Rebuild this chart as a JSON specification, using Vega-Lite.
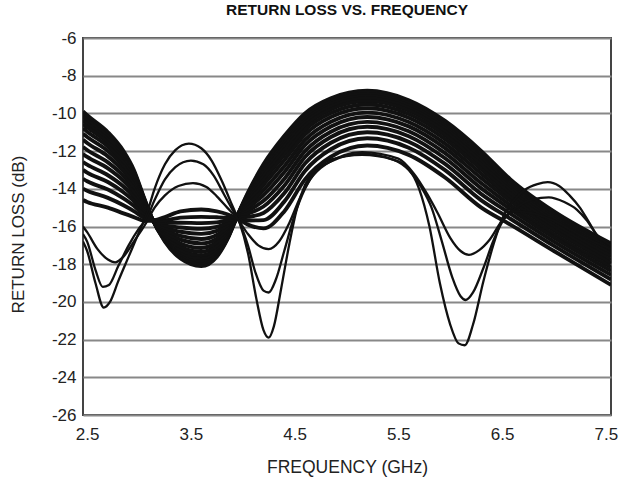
{
"$schema":"https://vega.github.io/schema/vega-lite/v6.json",
"width":528,"height":377,
"autosize":{"type":"none"},
"padding":{"left":83,"top":38,"right":18,"bottom":62},
"background":"white",
"config":{"view":{"stroke":"#444","strokeWidth":2},"font":"Liberation Sans"},
"title":{"text":"RETURN LOSS VS. FREQUENCY","fontSize":15.5,"fontWeight":"bold","color":"#111","offset":11,"anchor":"middle"},
"datasets":{"band":[
{"c":"b0","f":2.46,"v":-9.9},{"c":"b0","f":2.5,"v":-10.1},{"c":"b0","f":2.7,"v":-11.0},{"c":"b0","f":2.85,"v":-12.0},{"c":"b0","f":2.95,"v":-13.0},{"c":"b0","f":3.05,"v":-14.5},{"c":"b0","f":3.12,"v":-15.5},{"c":"b0","f":3.25,"v":-16.8},{"c":"b0","f":3.4,"v":-17.7},{"c":"b0","f":3.6,"v":-18.1},{"c":"b0","f":3.75,"v":-17.6},{"c":"b0","f":3.85,"v":-16.7},{"c":"b0","f":3.95,"v":-15.4},{"c":"b0","f":4.05,"v":-14.2},{"c":"b0","f":4.2,"v":-12.7},{"c":"b0","f":4.4,"v":-11.2},{"c":"b0","f":4.6,"v":-10.0},{"c":"b0","f":4.85,"v":-9.2},{"c":"b0","f":5.2,"v":-8.8},{"c":"b0","f":5.6,"v":-9.3},{"c":"b0","f":5.95,"v":-10.4},{"c":"b0","f":6.3,"v":-12.0},{"c":"b0","f":6.58,"v":-13.5},{"c":"b0","f":7.0,"v":-15.2},{"c":"b0","f":7.55,"v":-16.9},
{"c":"b1","f":2.46,"v":-10.04},{"c":"b1","f":2.5,"v":-10.24},{"c":"b1","f":2.7,"v":-11.12},{"c":"b1","f":2.85,"v":-12.1},{"c":"b1","f":2.95,"v":-13.08},{"c":"b1","f":3.05,"v":-14.54},{"c":"b1","f":3.12,"v":-15.51},{"c":"b1","f":3.25,"v":-16.76},{"c":"b1","f":3.4,"v":-17.63},{"c":"b1","f":3.6,"v":-18.01},{"c":"b1","f":3.75,"v":-17.53},{"c":"b1","f":3.85,"v":-16.66},{"c":"b1","f":3.95,"v":-15.41},{"c":"b1","f":4.05,"v":-14.25},{"c":"b1","f":4.2,"v":-12.8},{"c":"b1","f":4.4,"v":-11.32},{"c":"b1","f":4.6,"v":-10.11},{"c":"b1","f":4.85,"v":-9.29},{"c":"b1","f":5.2,"v":-8.89},{"c":"b1","f":5.6,"v":-9.39},{"c":"b1","f":5.95,"v":-10.49},{"c":"b1","f":6.3,"v":-12.09},{"c":"b1","f":6.58,"v":-13.57},{"c":"b1","f":7.0,"v":-15.26},{"c":"b1","f":7.55,"v":-16.97},
{"c":"b2","f":2.46,"v":-10.18},{"c":"b2","f":2.5,"v":-10.38},{"c":"b2","f":2.7,"v":-11.24},{"c":"b2","f":2.85,"v":-12.2},{"c":"b2","f":2.95,"v":-13.15},{"c":"b2","f":3.05,"v":-14.57},{"c":"b2","f":3.12,"v":-15.51},{"c":"b2","f":3.25,"v":-16.72},{"c":"b2","f":3.4,"v":-17.55},{"c":"b2","f":3.6,"v":-17.92},{"c":"b2","f":3.75,"v":-17.46},{"c":"b2","f":3.85,"v":-16.62},{"c":"b2","f":3.95,"v":-15.41},{"c":"b2","f":4.05,"v":-14.3},{"c":"b2","f":4.2,"v":-12.9},{"c":"b2","f":4.4,"v":-11.44},{"c":"b2","f":4.6,"v":-10.21},{"c":"b2","f":4.85,"v":-9.39},{"c":"b2","f":5.2,"v":-8.97},{"c":"b2","f":5.6,"v":-9.47},{"c":"b2","f":5.95,"v":-10.58},{"c":"b2","f":6.3,"v":-12.18},{"c":"b2","f":6.58,"v":-13.64},{"c":"b2","f":7.0,"v":-15.33},{"c":"b2","f":7.55,"v":-17.03},
{"c":"b3","f":2.46,"v":-10.37},{"c":"b3","f":2.5,"v":-10.56},{"c":"b3","f":2.7,"v":-11.4},{"c":"b3","f":2.85,"v":-12.33},{"c":"b3","f":2.95,"v":-13.25},{"c":"b3","f":3.05,"v":-14.62},{"c":"b3","f":3.12,"v":-15.52},{"c":"b3","f":3.25,"v":-16.67},{"c":"b3","f":3.4,"v":-17.45},{"c":"b3","f":3.6,"v":-17.8},{"c":"b3","f":3.75,"v":-17.36},{"c":"b3","f":3.85,"v":-16.57},{"c":"b3","f":3.95,"v":-15.42},{"c":"b3","f":4.05,"v":-14.37},{"c":"b3","f":4.2,"v":-13.04},{"c":"b3","f":4.4,"v":-11.6},{"c":"b3","f":4.6,"v":-10.35},{"c":"b3","f":4.85,"v":-9.51},{"c":"b3","f":5.2,"v":-9.09},{"c":"b3","f":5.6,"v":-9.59},{"c":"b3","f":5.95,"v":-10.7},{"c":"b3","f":6.3,"v":-12.3},{"c":"b3","f":6.58,"v":-13.74},{"c":"b3","f":7.0,"v":-15.41},{"c":"b3","f":7.55,"v":-17.12},
{"c":"b4","f":2.46,"v":-10.56},{"c":"b4","f":2.5,"v":-10.74},{"c":"b4","f":2.7,"v":-11.56},{"c":"b4","f":2.85,"v":-12.46},{"c":"b4","f":2.95,"v":-13.35},{"c":"b4","f":3.05,"v":-14.67},{"c":"b4","f":3.12,"v":-15.53},{"c":"b4","f":3.25,"v":-16.62},{"c":"b4","f":3.4,"v":-17.35},{"c":"b4","f":3.6,"v":-17.68},{"c":"b4","f":3.75,"v":-17.26},{"c":"b4","f":3.85,"v":-16.51},{"c":"b4","f":3.95,"v":-15.43},{"c":"b4","f":4.05,"v":-14.44},{"c":"b4","f":4.2,"v":-13.18},{"c":"b4","f":4.4,"v":-11.76},{"c":"b4","f":4.6,"v":-10.49},{"c":"b4","f":4.85,"v":-9.63},{"c":"b4","f":5.2,"v":-9.21},{"c":"b4","f":5.6,"v":-9.71},{"c":"b4","f":5.95,"v":-10.82},{"c":"b4","f":6.3,"v":-12.42},{"c":"b4","f":6.58,"v":-13.84},{"c":"b4","f":7.0,"v":-15.49},{"c":"b4","f":7.55,"v":-17.21},
{"c":"b5","f":2.46,"v":-10.79},{"c":"b5","f":2.5,"v":-10.97},{"c":"b5","f":2.7,"v":-11.76},{"c":"b5","f":2.85,"v":-12.63},{"c":"b5","f":2.95,"v":-13.48},{"c":"b5","f":3.05,"v":-14.73},{"c":"b5","f":3.12,"v":-15.54},{"c":"b5","f":3.25,"v":-16.55},{"c":"b5","f":3.4,"v":-17.23},{"c":"b5","f":3.6,"v":-17.53},{"c":"b5","f":3.75,"v":-17.14},{"c":"b5","f":3.85,"v":-16.44},{"c":"b5","f":3.95,"v":-15.44},{"c":"b5","f":4.05,"v":-14.52},{"c":"b5","f":4.2,"v":-13.35},{"c":"b5","f":4.4,"v":-11.96},{"c":"b5","f":4.6,"v":-10.67},{"c":"b5","f":4.85,"v":-9.79},{"c":"b5","f":5.2,"v":-9.35},{"c":"b5","f":5.6,"v":-9.85},{"c":"b5","f":5.95,"v":-10.97},{"c":"b5","f":6.3,"v":-12.57},{"c":"b5","f":6.58,"v":-13.96},{"c":"b5","f":7.0,"v":-15.6},{"c":"b5","f":7.55,"v":-17.32},
{"c":"b6","f":2.46,"v":-11.08},{"c":"b6","f":2.5,"v":-11.25},{"c":"b6","f":2.7,"v":-12.0},{"c":"b6","f":2.85,"v":-12.83},{"c":"b6","f":2.95,"v":-13.63},{"c":"b6","f":3.05,"v":-14.8},{"c":"b6","f":3.12,"v":-15.55},{"c":"b6","f":3.25,"v":-16.48},{"c":"b6","f":3.4,"v":-17.08},{"c":"b6","f":3.6,"v":-17.35},{"c":"b6","f":3.75,"v":-17.0},{"c":"b6","f":3.85,"v":-16.36},{"c":"b6","f":3.95,"v":-15.45},{"c":"b6","f":4.05,"v":-14.63},{"c":"b6","f":4.2,"v":-13.55},{"c":"b6","f":4.4,"v":-12.2},{"c":"b6","f":4.6,"v":-10.88},{"c":"b6","f":4.85,"v":-9.98},{"c":"b6","f":5.2,"v":-9.53},{"c":"b6","f":5.6,"v":-10.03},{"c":"b6","f":5.95,"v":-11.15},{"c":"b6","f":6.3,"v":-12.75},{"c":"b6","f":6.58,"v":-14.1},{"c":"b6","f":7.0,"v":-15.73},{"c":"b6","f":7.55,"v":-17.45},
{"c":"b7","f":2.46,"v":-11.4},{"c":"b7","f":2.5,"v":-11.57},{"c":"b7","f":2.7,"v":-12.28},{"c":"b7","f":2.85,"v":-13.06},{"c":"b7","f":2.95,"v":-13.8},{"c":"b7","f":3.05,"v":-14.88},{"c":"b7","f":3.12,"v":-15.56},{"c":"b7","f":3.25,"v":-16.38},{"c":"b7","f":3.4,"v":-16.9},{"c":"b7","f":3.6,"v":-17.14},{"c":"b7","f":3.75,"v":-16.83},{"c":"b7","f":3.85,"v":-16.27},{"c":"b7","f":3.95,"v":-15.46},{"c":"b7","f":4.05,"v":-14.74},{"c":"b7","f":4.2,"v":-13.79},{"c":"b7","f":4.4,"v":-12.48},{"c":"b7","f":4.6,"v":-11.12},{"c":"b7","f":4.85,"v":-10.19},{"c":"b7","f":5.2,"v":-9.73},{"c":"b7","f":5.6,"v":-10.23},{"c":"b7","f":5.95,"v":-11.36},{"c":"b7","f":6.3,"v":-12.96},{"c":"b7","f":6.58,"v":-14.27},{"c":"b7","f":7.0,"v":-15.87},{"c":"b7","f":7.55,"v":-17.6},
{"c":"b8","f":2.46,"v":-11.78},{"c":"b8","f":2.5,"v":-11.94},{"c":"b8","f":2.7,"v":-12.6},{"c":"b8","f":2.85,"v":-13.32},{"c":"b8","f":2.95,"v":-14.0},{"c":"b8","f":3.05,"v":-14.98},{"c":"b8","f":3.12,"v":-15.58},{"c":"b8","f":3.25,"v":-16.28},{"c":"b8","f":3.4,"v":-16.7},{"c":"b8","f":3.6,"v":-16.9},{"c":"b8","f":3.75,"v":-16.64},{"c":"b8","f":3.85,"v":-16.16},{"c":"b8","f":3.95,"v":-15.48},{"c":"b8","f":4.05,"v":-14.88},{"c":"b8","f":4.2,"v":-14.06},{"c":"b8","f":4.4,"v":-12.8},{"c":"b8","f":4.6,"v":-11.4},{"c":"b8","f":4.85,"v":-10.44},{"c":"b8","f":5.2,"v":-9.96},{"c":"b8","f":5.6,"v":-10.46},{"c":"b8","f":5.95,"v":-11.6},{"c":"b8","f":6.3,"v":-13.2},{"c":"b8","f":6.58,"v":-14.46},{"c":"b8","f":7.0,"v":-16.04},{"c":"b8","f":7.55,"v":-17.78},
{"c":"b9","f":2.46,"v":-12.16},{"c":"b9","f":2.5,"v":-12.31},{"c":"b9","f":2.7,"v":-12.92},{"c":"b9","f":2.85,"v":-13.58},{"c":"b9","f":2.95,"v":-14.2},{"c":"b9","f":3.05,"v":-15.08},{"c":"b9","f":3.12,"v":-15.6},{"c":"b9","f":3.25,"v":-16.18},{"c":"b9","f":3.4,"v":-16.5},{"c":"b9","f":3.6,"v":-16.66},{"c":"b9","f":3.75,"v":-16.45},{"c":"b9","f":3.85,"v":-16.05},{"c":"b9","f":3.95,"v":-15.5},{"c":"b9","f":4.05,"v":-15.02},{"c":"b9","f":4.2,"v":-14.33},{"c":"b9","f":4.4,"v":-13.12},{"c":"b9","f":4.6,"v":-11.68},{"c":"b9","f":4.85,"v":-10.69},{"c":"b9","f":5.2,"v":-10.19},{"c":"b9","f":5.6,"v":-10.69},{"c":"b9","f":5.95,"v":-11.84},{"c":"b9","f":6.3,"v":-13.44},{"c":"b9","f":6.58,"v":-14.65},{"c":"b9","f":7.0,"v":-16.21},{"c":"b9","f":7.55,"v":-17.96},
{"c":"b10","f":2.46,"v":-12.58},{"c":"b10","f":2.5,"v":-12.72},{"c":"b10","f":2.7,"v":-13.28},{"c":"b10","f":2.85,"v":-13.88},{"c":"b10","f":2.95,"v":-14.43},{"c":"b10","f":3.05,"v":-15.18},{"c":"b10","f":3.12,"v":-15.61},{"c":"b10","f":3.25,"v":-16.06},{"c":"b10","f":3.4,"v":-16.28},{"c":"b10","f":3.6,"v":-16.39},{"c":"b10","f":3.75,"v":-16.23},{"c":"b10","f":3.85,"v":-15.93},{"c":"b10","f":3.95,"v":-15.51},{"c":"b10","f":4.05,"v":-15.17},{"c":"b10","f":4.2,"v":-14.64},{"c":"b10","f":4.4,"v":-13.48},{"c":"b10","f":4.6,"v":-12.0},{"c":"b10","f":4.85,"v":-10.97},{"c":"b10","f":5.2,"v":-10.45},{"c":"b10","f":5.6,"v":-10.95},{"c":"b10","f":5.95,"v":-12.11},{"c":"b10","f":6.3,"v":-13.71},{"c":"b10","f":6.58,"v":-14.87},{"c":"b10","f":7.0,"v":-16.4},{"c":"b10","f":7.55,"v":-18.15},
{"c":"b11","f":2.46,"v":-13.0},{"c":"b11","f":2.5,"v":-13.14},{"c":"b11","f":2.7,"v":-13.64},{"c":"b11","f":2.85,"v":-14.18},{"c":"b11","f":2.95,"v":-14.65},{"c":"b11","f":3.05,"v":-15.29},{"c":"b11","f":3.12,"v":-15.63},{"c":"b11","f":3.25,"v":-15.94},{"c":"b11","f":3.4,"v":-16.05},{"c":"b11","f":3.6,"v":-16.12},{"c":"b11","f":3.75,"v":-16.02},{"c":"b11","f":3.85,"v":-15.81},{"c":"b11","f":3.95,"v":-15.53},{"c":"b11","f":4.05,"v":-15.32},{"c":"b11","f":4.2,"v":-14.94},{"c":"b11","f":4.4,"v":-13.84},{"c":"b11","f":4.6,"v":-12.31},{"c":"b11","f":4.85,"v":-11.25},{"c":"b11","f":5.2,"v":-10.71},{"c":"b11","f":5.6,"v":-11.21},{"c":"b11","f":5.95,"v":-12.38},{"c":"b11","f":6.3,"v":-13.98},{"c":"b11","f":6.58,"v":-15.08},{"c":"b11","f":7.0,"v":-16.59},{"c":"b11","f":7.55,"v":-18.35},
{"c":"b12","f":2.46,"v":-13.47},{"c":"b12","f":2.5,"v":-13.6},{"c":"b12","f":2.7,"v":-14.04},{"c":"b12","f":2.85,"v":-14.51},{"c":"b12","f":2.95,"v":-14.9},{"c":"b12","f":3.05,"v":-15.41},{"c":"b12","f":3.12,"v":-15.65},{"c":"b12","f":3.25,"v":-15.81},{"c":"b12","f":3.4,"v":-15.8},{"c":"b12","f":3.6,"v":-15.82},{"c":"b12","f":3.75,"v":-15.78},{"c":"b12","f":3.85,"v":-15.67},{"c":"b12","f":3.95,"v":-15.55},{"c":"b12","f":4.05,"v":-15.49},{"c":"b12","f":4.2,"v":-15.28},{"c":"b12","f":4.4,"v":-14.24},{"c":"b12","f":4.6,"v":-12.66},{"c":"b12","f":4.85,"v":-11.56},{"c":"b12","f":5.2,"v":-11.0},{"c":"b12","f":5.6,"v":-11.5},{"c":"b12","f":5.95,"v":-12.68},{"c":"b12","f":6.3,"v":-14.28},{"c":"b12","f":6.58,"v":-15.32},{"c":"b12","f":7.0,"v":-16.8},{"c":"b12","f":7.55,"v":-18.57},
{"c":"b13","f":2.46,"v":-13.99},{"c":"b13","f":2.5,"v":-14.1},{"c":"b13","f":2.7,"v":-14.48},{"c":"b13","f":2.85,"v":-14.87},{"c":"b13","f":2.95,"v":-15.18},{"c":"b13","f":3.05,"v":-15.54},{"c":"b13","f":3.12,"v":-15.67},{"c":"b13","f":3.25,"v":-15.67},{"c":"b13","f":3.4,"v":-15.53},{"c":"b13","f":3.6,"v":-15.49},{"c":"b13","f":3.75,"v":-15.51},{"c":"b13","f":3.85,"v":-15.53},{"c":"b13","f":3.95,"v":-15.57},{"c":"b13","f":4.05,"v":-15.68},{"c":"b13","f":4.2,"v":-15.66},{"c":"b13","f":4.4,"v":-14.68},{"c":"b13","f":4.6,"v":-13.05},{"c":"b13","f":4.85,"v":-11.9},{"c":"b13","f":5.2,"v":-11.32},{"c":"b13","f":5.6,"v":-11.82},{"c":"b13","f":5.95,"v":-13.01},{"c":"b13","f":6.3,"v":-14.61},{"c":"b13","f":6.58,"v":-15.59},{"c":"b13","f":7.0,"v":-17.03},{"c":"b13","f":7.55,"v":-18.81},
{"c":"b14","f":2.46,"v":-14.6},{"c":"b14","f":2.5,"v":-14.7},{"c":"b14","f":2.7,"v":-15.0},{"c":"b14","f":2.85,"v":-15.3},{"c":"b14","f":2.95,"v":-15.5},{"c":"b14","f":3.05,"v":-15.7},{"c":"b14","f":3.12,"v":-15.7},{"c":"b14","f":3.25,"v":-15.5},{"c":"b14","f":3.4,"v":-15.2},{"c":"b14","f":3.6,"v":-15.1},{"c":"b14","f":3.75,"v":-15.2},{"c":"b14","f":3.85,"v":-15.35},{"c":"b14","f":3.95,"v":-15.6},{"c":"b14","f":4.05,"v":-15.9},{"c":"b14","f":4.2,"v":-16.1},{"c":"b14","f":4.4,"v":-15.2},{"c":"b14","f":4.6,"v":-13.5},{"c":"b14","f":4.85,"v":-12.3},{"c":"b14","f":5.2,"v":-11.7},{"c":"b14","f":5.6,"v":-12.2},{"c":"b14","f":5.95,"v":-13.4},{"c":"b14","f":6.3,"v":-15.0},{"c":"b14","f":6.58,"v":-15.9},{"c":"b14","f":7.0,"v":-17.3},{"c":"b14","f":7.55,"v":-19.1},
{"c":"A","f":2.46,"v":-16.8},{"c":"A","f":2.5,"v":-17.3},{"c":"A","f":2.58,"v":-19.0},{"c":"A","f":2.66,"v":-20.3},{"c":"A","f":2.72,"v":-20.0},{"c":"A","f":2.8,"v":-18.9},{"c":"A","f":2.9,"v":-17.6},{"c":"A","f":3.0,"v":-16.3},{"c":"A","f":3.07,"v":-15.4},{"c":"A","f":3.15,"v":-14.0},{"c":"A","f":3.25,"v":-12.7},{"c":"A","f":3.35,"v":-11.95},{"c":"A","f":3.48,"v":-11.6},{"c":"A","f":3.6,"v":-11.85},{"c":"A","f":3.7,"v":-12.5},{"c":"A","f":3.8,"v":-13.6},{"c":"A","f":3.9,"v":-14.9},{"c":"A","f":3.97,"v":-15.8},{"c":"A","f":4.05,"v":-17.4},{"c":"A","f":4.13,"v":-19.8},{"c":"A","f":4.2,"v":-21.5},{"c":"A","f":4.25,"v":-21.9},{"c":"A","f":4.3,"v":-21.3},{"c":"A","f":4.37,"v":-19.3},{"c":"A","f":4.45,"v":-16.9},{"c":"A","f":4.52,"v":-15.1},{"c":"A","f":4.6,"v":-13.8},{"c":"A","f":4.7,"v":-13.0},{"c":"A","f":4.85,"v":-12.45},{"c":"A","f":5.15,"v":-12.2},{"c":"A","f":5.45,"v":-12.45},{"c":"A","f":5.6,"v":-12.95},{"c":"A","f":5.7,"v":-14.0},{"c":"A","f":5.8,"v":-16.0},{"c":"A","f":5.9,"v":-19.0},{"c":"A","f":6.0,"v":-21.2},{"c":"A","f":6.08,"v":-22.2},{"c":"A","f":6.14,"v":-22.3},{"c":"A","f":6.22,"v":-21.2},{"c":"A","f":6.32,"v":-18.9},{"c":"A","f":6.42,"v":-16.9},{"c":"A","f":6.5,"v":-15.6},{"c":"A","f":6.6,"v":-14.7},{"c":"A","f":6.72,"v":-14.05},{"c":"A","f":6.84,"v":-13.75},{"c":"A","f":6.94,"v":-13.65},{"c":"A","f":7.05,"v":-13.85},{"c":"A","f":7.15,"v":-14.35},{"c":"A","f":7.25,"v":-15.0},{"c":"A","f":7.33,"v":-15.7},{"c":"A","f":7.42,"v":-16.5},{"c":"A","f":7.55,"v":-17.0},
{"c":"B","f":2.46,"v":-16.4},{"c":"B","f":2.5,"v":-16.8},{"c":"B","f":2.58,"v":-18.3},{"c":"B","f":2.65,"v":-19.2},{"c":"B","f":2.71,"v":-19.1},{"c":"B","f":2.8,"v":-18.1},{"c":"B","f":2.9,"v":-17.0},{"c":"B","f":3.0,"v":-16.1},{"c":"B","f":3.07,"v":-15.6},{"c":"B","f":3.15,"v":-14.6},{"c":"B","f":3.25,"v":-13.5},{"c":"B","f":3.35,"v":-12.85},{"c":"B","f":3.5,"v":-12.5},{"c":"B","f":3.62,"v":-12.7},{"c":"B","f":3.72,"v":-13.3},{"c":"B","f":3.82,"v":-14.3},{"c":"B","f":3.9,"v":-15.1},{"c":"B","f":3.97,"v":-15.8},{"c":"B","f":4.05,"v":-17.0},{"c":"B","f":4.12,"v":-18.4},{"c":"B","f":4.2,"v":-19.4},{"c":"B","f":4.25,"v":-19.5},{"c":"B","f":4.32,"v":-18.8},{"c":"B","f":4.4,"v":-17.3},{"c":"B","f":4.5,"v":-15.4},{"c":"B","f":4.6,"v":-14.0},{"c":"B","f":4.7,"v":-13.1},{"c":"B","f":4.85,"v":-12.55},{"c":"B","f":5.15,"v":-12.15},{"c":"B","f":5.45,"v":-12.45},{"c":"B","f":5.6,"v":-13.0},{"c":"B","f":5.72,"v":-13.9},{"c":"B","f":5.82,"v":-15.0},{"c":"B","f":5.92,"v":-16.8},{"c":"B","f":6.02,"v":-18.7},{"c":"B","f":6.1,"v":-19.7},{"c":"B","f":6.15,"v":-19.9},{"c":"B","f":6.22,"v":-19.5},{"c":"B","f":6.32,"v":-18.2},{"c":"B","f":6.42,"v":-16.7},{"c":"B","f":6.52,"v":-15.6},{"c":"B","f":6.65,"v":-14.95},{"c":"B","f":6.8,"v":-14.55},{"c":"B","f":6.95,"v":-14.45},{"c":"B","f":7.1,"v":-14.7},{"c":"B","f":7.22,"v":-15.1},{"c":"B","f":7.32,"v":-15.7},{"c":"B","f":7.4,"v":-16.35},{"c":"B","f":7.55,"v":-17.0},
{"c":"C","f":2.46,"v":-16.0},{"c":"C","f":2.5,"v":-16.3},{"c":"C","f":2.6,"v":-17.2},{"c":"C","f":2.7,"v":-17.75},{"c":"C","f":2.77,"v":-17.9},{"c":"C","f":2.85,"v":-17.6},{"c":"C","f":2.95,"v":-16.8},{"c":"C","f":3.07,"v":-15.8},{"c":"C","f":3.15,"v":-15.0},{"c":"C","f":3.25,"v":-14.35},{"c":"C","f":3.38,"v":-13.85},{"c":"C","f":3.52,"v":-13.7},{"c":"C","f":3.65,"v":-13.9},{"c":"C","f":3.75,"v":-14.4},{"c":"C","f":3.85,"v":-15.0},{"c":"C","f":3.95,"v":-15.6},{"c":"C","f":4.05,"v":-16.4},{"c":"C","f":4.15,"v":-17.0},{"c":"C","f":4.25,"v":-17.2},{"c":"C","f":4.35,"v":-16.8},{"c":"C","f":4.45,"v":-15.8},{"c":"C","f":4.55,"v":-14.5},{"c":"C","f":4.65,"v":-13.5},{"c":"C","f":4.8,"v":-12.7},{"c":"C","f":5.15,"v":-12.05},{"c":"C","f":5.5,"v":-12.4},{"c":"C","f":5.65,"v":-13.2},{"c":"C","f":5.78,"v":-14.3},{"c":"C","f":5.88,"v":-15.3},{"c":"C","f":6.0,"v":-16.6},{"c":"C","f":6.1,"v":-17.3},{"c":"C","f":6.18,"v":-17.5},{"c":"C","f":6.28,"v":-17.25},{"c":"C","f":6.38,"v":-16.7},{"c":"C","f":6.5,"v":-15.7},{"c":"C","f":6.62,"v":-15.2},{"c":"C","f":6.8,"v":-15.3},{"c":"C","f":7.0,"v":-15.7},{"c":"C","f":7.3,"v":-16.6},{"c":"C","f":7.55,"v":-17.2}
]},
"data":{"name":"band"},
"mark":{"type":"line","interpolate":"monotone","color":"#111","clip":true},
"encoding":{
"x":{"field":"f","type":"quantitative","scale":{"domain":[2.46,7.55],"nice":false,"zero":false},
"axis":{"values":[2.5,3.5,4.5,5.5,6.5,7.5],"format":".1f","grid":false,"ticks":false,"domain":false,"labelFlush":false,"labelFontSize":17,"labelColor":"#222","labelPadding":11,"title":"FREQUENCY (GHz)","titleFontSize":17.5,"titleFontWeight":"normal","titleColor":"#222","titleX":264,"titleY":57,"titleBaseline":"alphabetic","titleAlign":"center"}},
"y":{"field":"v","type":"quantitative","scale":{"domain":[-26,-6],"nice":false,"zero":false},
"axis":{"values":[-26,-24,-22,-20,-18,-16,-14,-12,-10,-8,-6],"labelExpr":"datum.value","grid":true,"gridColor":"#888","gridWidth":2,"ticks":false,"domain":false,"labelFlush":false,"labelFontSize":17,"labelColor":"#222","labelPadding":7,"title":"RETURN LOSS (dB)","titleFontSize":17,"titleFontWeight":"normal","titleColor":"#222","titleX":-65,"titleY":196,"titleAlign":"center","titleBaseline":"middle"}},
"detail":{"field":"c"},
"strokeWidth":{"condition":{"test":"length(datum.c) > 1","value":3.9},"value":2.3}
}
}
